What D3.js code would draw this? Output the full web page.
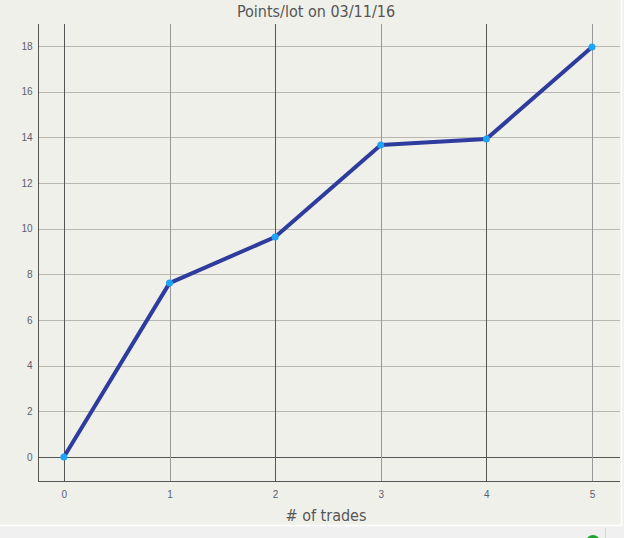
<!DOCTYPE html>
<html><head><meta charset="utf-8">
<script src="https://cdn.jsdelivr.net/npm/d3@7"></script>
<style>
html,body{margin:0;padding:0;background:#f0f0f0;}
svg{display:block;font-family:"DejaVu Sans Condensed","DejaVu Sans",sans-serif;}
</style></head>
<body>
<svg id="c" width="624" height="538"></svg>
<script>
const title = "Points/lot on 03/11/16";
const xTitle = "# of trades";
const trades = [0, 1, 2, 3, 4, 5];
const points = [0, 7.62, 9.64, 13.67, 13.93, 17.96];
const xTicks = [0, 1, 2, 3, 4, 5];
const yTicks = [0, 2, 4, 6, 8, 10, 12, 14, 16, 18];

const svg = d3.select("#c");
// panel
svg.append("rect").attr("x",0).attr("y",0).attr("width",621).attr("height",525).attr("fill","#f0f0eb");
svg.append("line").attr("x1",621.5).attr("x2",621.5).attr("y1",0).attr("y2",526).attr("stroke","#ffffff").attr("stroke-width",1.5);
svg.append("line").attr("x1",0).attr("x2",622).attr("y1",525.5).attr("y2",525.5).attr("stroke","#ffffff").attr("stroke-width",1.5);
svg.append("line").attr("x1",605.5).attr("x2",605.5).attr("y1",528).attr("y2",538).attr("stroke","#d8d8d8");
svg.append("circle").attr("cx",593).attr("cy",542).attr("r",7).attr("fill","#22a030");

const L=38, R=620, T=24, B=481;
const x = d3.scaleLinear().domain([-0.245, 5.265]).range([L, R]);
const y = d3.scaleLinear().domain([-1.05, 18.97]).range([B, T]);

// horizontal grid
svg.append("g").selectAll("line").data(yTicks).join("line")
  .attr("x1",L).attr("x2",R)
  .attr("y1",d=>Math.round(y(d))+0.5).attr("y2",d=>Math.round(y(d))+0.5)
  .attr("stroke",d=>d===0?"#555":"#b8b8b0").attr("stroke-width",1);
// vertical grid
svg.append("g").selectAll("line").data(xTicks).join("line")
  .attr("x1",d=>Math.round(x(d))+0.5).attr("x2",d=>Math.round(x(d))+0.5)
  .attr("y1",T).attr("y2",B)
  .attr("stroke",d=>d%2===0?"#555":"#999").attr("stroke-width",1);

// axes using d3 axis generators
const yAxis = d3.axisLeft(y).tickValues(yTicks).tickFormat(d3.format("d")).tickSize(0).tickPadding(6);
const gy = svg.append("g").attr("transform",`translate(${L+0.5},0)`).call(yAxis);
gy.select(".domain").attr("stroke","#555").attr("d",`M0,${T}V${B}`);
gy.selectAll("text").attr("fill","#5a6070").attr("font-size","10px");

const xAxis = d3.axisBottom(x).tickValues(xTicks).tickFormat(d3.format("d")).tickSize(0).tickPadding(9);
const gx = svg.append("g").attr("transform",`translate(0,${B+0.5})`).call(xAxis);
gx.select(".domain").attr("stroke","#555").attr("d",`M${L},0H${R}`);
gx.selectAll("text").attr("fill","#5a6070").attr("font-size","10px");

// line
const line = d3.line().x((d,i)=>x(trades[i])).y(d=>y(d));
svg.append("path").datum(points).attr("d",line)
  .attr("fill","none").attr("stroke","#2e3c9e").attr("stroke-width",4).attr("stroke-linejoin","round");
svg.append("g").selectAll("circle").data(points).join("circle")
  .attr("cx",(d,i)=>x(trades[i])).attr("cy",d=>y(d)).attr("r",3.5).attr("fill","#1ea4f4");

// titles
svg.append("text").attr("x",316).attr("y",17).attr("text-anchor","middle")
  .attr("font-size","16px").attr("fill","#555").text(title);
svg.append("text").attr("x",326).attr("y",521).attr("text-anchor","middle")
  .attr("font-size","16px").attr("fill","#555").text(xTitle);
</script>
</body></html>
